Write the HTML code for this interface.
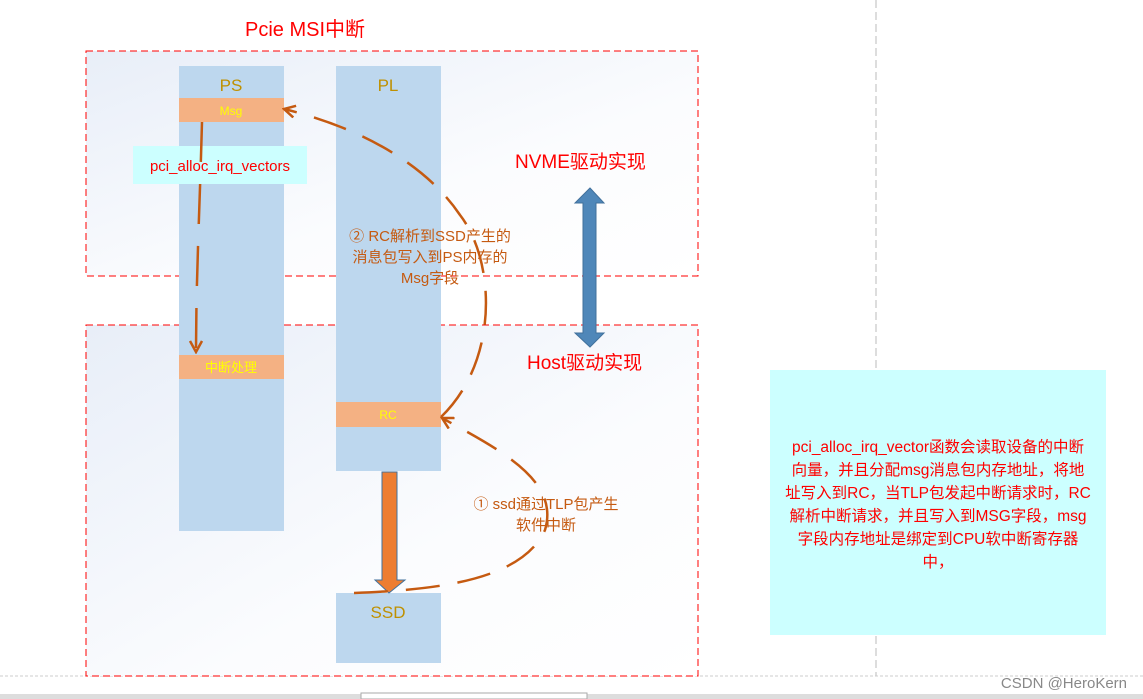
<!DOCTYPE html>
<html><head><meta charset="utf-8"><style>
body{margin:0;width:1143px;height:699px;overflow:hidden;background:#fff;font-family:"Liberation Sans","Noto Sans CJK SC",sans-serif;}
svg{display:block}
</style></head><body>
<svg width="1143" height="699" xmlns="http://www.w3.org/2000/svg" font-family="Liberation Sans, Noto Sans CJK SC, sans-serif">
<defs>
<linearGradient id="g" x1="0" y1="0" x2="1" y2="1"><stop offset="0" stop-color="#e8eef8"/><stop offset="0.6" stop-color="#fbfcfe"/><stop offset="1" stop-color="#ffffff"/></linearGradient>
<marker id="ah" markerWidth="14" markerHeight="14" refX="12" refY="7" orient="auto" markerUnits="userSpaceOnUse"><path d="M1,1 L12,7 L1,13" fill="none" stroke="#c55a11" stroke-width="2.5"/></marker>
</defs>
<line x1="876" y1="0" x2="876" y2="676" stroke="#bbb" stroke-width="1" stroke-dasharray="8,4"/>
<line x1="0" y1="676" x2="1143" y2="676" stroke="#ccc" stroke-width="1" stroke-dasharray="3,2"/>
<rect x="0" y="694" width="1143" height="5" fill="#ddd"/>
<rect x="361" y="693" width="226" height="6" fill="#fff" stroke="#aaa"/>
<rect x="86" y="51" width="612" height="225" fill="url(#g)" stroke="#f00" stroke-dasharray="7,4"/>
<rect x="86" y="325" width="612" height="351" fill="url(#g)" stroke="#f00" stroke-dasharray="7,4"/>
<text x="245" y="36" font-size="20" fill="#f00">Pcie  MSI中断</text>
<rect x="179" y="66" width="105" height="465" fill="#bdd7ee"/>
<rect x="336" y="66" width="105" height="405" fill="#bdd7ee"/>
<text x="231" y="91" font-size="17" fill="#bf9000" text-anchor="middle">PS</text>
<text x="388" y="91" font-size="17" fill="#bf9000" text-anchor="middle">PL</text>
<rect x="179" y="98" width="105" height="24" fill="#f4b183"/>
<text x="231" y="115" font-size="12" fill="#ff0" text-anchor="middle">Msg</text>
<rect x="133" y="146" width="174" height="38" fill="#ccffff"/>
<text x="220" y="171" font-size="15" fill="#f00" text-anchor="middle">pci_alloc_irq_vectors</text>
<rect x="179" y="355" width="105" height="24" fill="#f4b183"/>
<text x="231" y="372" font-size="13" fill="#ff0" text-anchor="middle">中断处理</text>
<rect x="336" y="402" width="105" height="25" fill="#f4b183"/>
<text x="388" y="419" font-size="12" fill="#ff0" text-anchor="middle">RC</text>
<rect x="336" y="593" width="105" height="70" fill="#bdd7ee"/>
<text x="388" y="618" font-size="17" fill="#bf9000" text-anchor="middle">SSD</text>
<path d="M382,472 H397 V580 H405 L389,593 L375,580 H382 Z" fill="#ed7d31" stroke="#41719c" stroke-width="1"/>
<path d="M590,188 L604,203 L596,203 L596,333 L604,333 L590,347 L575,333 L583,333 L583,203 L575,203 Z" fill="#4f87b9" stroke="#41719c"/>
<text x="515" y="168" font-size="19" fill="#f00">NVME驱动实现</text>
<text x="527" y="369" font-size="19" fill="#f00">Host驱动实现</text>
<path d="M202,122 C200,200 196,280 196,352" fill="none" stroke="#c55a11" stroke-width="2.5" stroke-dasharray="40,22" marker-end="url(#ah)"/>
<path d="M441,417 C500,360 495,260 460,215 C430,170 370,130 284,109" fill="none" stroke="#c55a11" stroke-width="2.5" stroke-dasharray="34,18" marker-end="url(#ah)"/>
<path d="M354,593 C420,590 520,585 545,530 C560,480 500,450 442,418" fill="none" stroke="#c55a11" stroke-width="2.5" stroke-dasharray="34,18" marker-end="url(#ah)"/>
<g font-size="15" fill="#c55a11" text-anchor="middle">
<text x="430" y="241">② RC解析到SSD产生的</text>
<text x="430" y="262">消息包写入到PS内存的</text>
<text x="430" y="283">Msg字段</text>
<text x="546" y="509">① ssd通过TLP包产生</text>
<text x="546" y="530">软件中断</text>
</g>
<rect x="770" y="370" width="336" height="265" fill="#ccffff"/>
<g font-size="15.5" fill="#f00" text-anchor="middle">
<text x="938" y="452">pci_alloc_irq_vector函数会读取设备的中断</text>
<text x="938" y="475">向量，并且分配msg消息包内存地址，将地</text>
<text x="938" y="498">址写入到RC，当TLP包发起中断请求时，RC</text>
<text x="938" y="521">解析中断请求，并且写入到MSG字段，msg</text>
<text x="938" y="544">字段内存地址是绑定到CPU软中断寄存器</text>
<text x="938" y="567">中，</text>
</g>
<text x="1127" y="688" font-size="15" fill="#888" text-anchor="end">CSDN @HeroKern</text>
</svg>
</body></html>
